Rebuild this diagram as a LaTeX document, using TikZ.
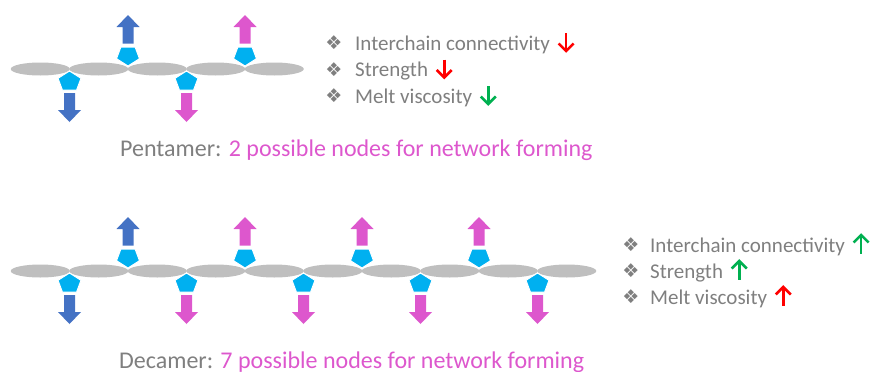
\documentclass[tikz,border=0pt]{standalone}
\usepackage{fontspec}
\setmainfont{Carlito}
\newfontfamily\dejavu{DejaVu Sans}
\usetikzlibrary{calc}

\definecolor{chaingray}{RGB}{191,191,191}
\definecolor{pentcyan}{RGB}{0,176,240}
\definecolor{armblue}{RGB}{68,114,196}
\definecolor{armpink}{RGB}{221,87,205}
\definecolor{txtgray}{RGB}{127,127,127}
\definecolor{risegreen}{RGB}{0,176,80}
\definecolor{fallred}{RGB}{255,0,0}

\tikzset{
  seg/.style={fill=chaingray, draw=none},
  pent/.style={fill=pentcyan, draw=white, line width=1pt, line join=round},
  % reactive site above the backbone, with an arm pointing up
  pics/armup/.style={code={
    \path[pent] (0,-3) -- (11.5,-10.3) -- (7.1,-22) -- (-7.1,-22) -- (-11.5,-10.3) -- cycle;
    \fill[#1] (-5.5,-25.5) -- (-5.5,-42) -- (-11.5,-42) -- (0,-54) -- (11.5,-42)
              -- (5.5,-42) -- (5.5,-25.5) -- cycle;
  }},
  % reactive site below the backbone, with an arm pointing down
  pics/armdown/.style={code={
    \path[pent] (0,2) -- (11.5,9.3) -- (7.1,21) -- (-7.1,21) -- (-11.5,9.3) -- cycle;
    \fill[#1] (-5.5,24) -- (-5.5,41) -- (-11.5,41) -- (0,53) -- (11.5,41)
              -- (5.5,41) -- (5.5,24) -- cycle;
  }},
  bul/.style={font=\dejavu\fontsize{19}{19}\selectfont, text=txtgray, inner sep=0pt},
  item/.style={font=\fontsize{21}{25}\selectfont, text=txtgray, inner sep=0pt, anchor=base west},
  caption/.style={font=\fontsize{24}{28}\selectfont, inner sep=0pt, anchor=base west},
  trend/.style={line width=2.6pt, line cap=butt, line join=miter},
}

% small trend arrows set after a text node
\newcommand\trenddown[2]{%
  \draw[trend,#2] ($(#1.base east)+(16,-17)$) -- ($(#1.base east)+(16,1)$);
  \draw[trend,#2] ($(#1.base east)+(8.5,-6.5)$) -- ($(#1.base east)+(16,1)$) -- ($(#1.base east)+(23.5,-6.5)$);}
\newcommand\trendup[2]{%
  \draw[trend,#2] ($(#1.base east)+(16,1.5)$) -- ($(#1.base east)+(16,-17)$);
  \draw[trend,#2] ($(#1.base east)+(8.5,-9.5)$) -- ($(#1.base east)+(16,-17)$) -- ($(#1.base east)+(23.5,-9.5)$);}

\begin{document}
\begin{tikzpicture}[x=1pt,y=-1pt]
\useasboundingbox (0,0) rectangle (873,372);

% ---------- pentamer ----------
\foreach \i in {0,...,4}
  \fill[seg] ({40.25+58.5*\i},69) ellipse [x radius=29.5, y radius=6.5];
\pic at ({11+58.5*1},69) {armdown=armblue};
\pic at ({11+58.5*2},69) {armup=armblue};
\pic at ({11+58.5*3},69) {armdown=armpink};
\pic at ({11+58.5*4},69) {armup=armpink};

\node[bul] (pb1) at (334,43) {❖};
\node[bul] (pb2) at (334,69.5) {❖};
\node[bul] (pb3) at (334,96) {❖};
\node[item] (pt1) at (355,50) {Interchain connectivity};
\node[item] (pt2) at (355,76.5) {Strength};
\node[item] (pt3) at (355,103) {Melt viscosity};
\trenddown{pt1}{fallred}
\trenddown{pt2}{fallred}
\trenddown{pt3}{risegreen}

\node[caption] (pcap) at (120,156)
  {\textcolor{txtgray}{Pentamer:} \textcolor{armpink}{2 possible nodes for network forming}};

% ---------- decamer ----------
\foreach \i in {0,...,9}
  \fill[seg] ({40.25+58.5*\i},271) ellipse [x radius=29.5, y radius=6.5];
\pic at ({11+58.5*1},271) {armdown=armblue};
\pic at ({11+58.5*2},271) {armup=armblue};
\foreach \k in {3,5,7,9}
  \pic at ({11+58.5*\k},271) {armdown=armpink};
\foreach \k in {4,6,8}
  \pic at ({11+58.5*\k},271) {armup=armpink};

\node[bul] (db1) at (631,245) {❖};
\node[bul] (db2) at (631,271) {❖};
\node[bul] (db3) at (631,297) {❖};
\node[item] (dt1) at (650,252) {Interchain connectivity};
\node[item] (dt2) at (650,278) {Strength};
\node[item] (dt3) at (650,304) {Melt viscosity};
\trendup{dt1}{risegreen}
\trendup{dt2}{risegreen}
\trendup{dt3}{fallred}

\node[caption] (dcap) at (119,368)
  {\textcolor{txtgray}{Decamer:} \textcolor{armpink}{7 possible nodes for network forming}};
\end{tikzpicture}
\end{document}
